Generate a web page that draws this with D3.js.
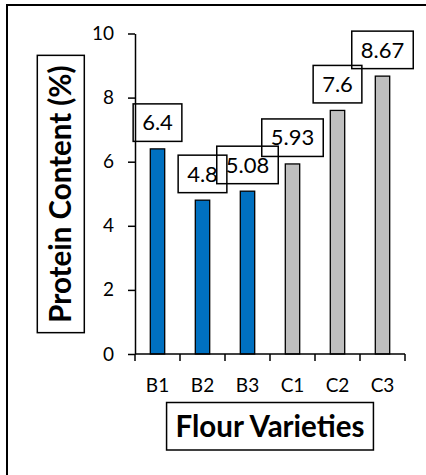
<!DOCTYPE html>
<html><head><meta charset="utf-8">
<script src="https://cdn.jsdelivr.net/npm/d3@7"></script>
<style>body{margin:0;background:#fff;overflow:hidden}svg{display:block}</style>
</head><body>
<script>
const categories = ["B1","B2","B3","C1","C2","C3"];
const values = [6.4, 4.8, 5.08, 5.93, 7.6, 8.67];
const groups = ["B","B","B","C","C","C"];
const yTicks = [0,2,4,6,8,10];
const xTitle = "Flour Varieties";
const yTitle = "Protein Content (%)";
const colors = {B:"#0070C0", C:"#BFBFBF"};

const W=426,H=475;
const svg=d3.select("body").append("svg").attr("width",W).attr("height",H);
// outer chart border: only top and left edges are within the picture
svg.append("path").attr("d","M7,"+H+" V5 H"+W).attr("fill","none")
  .attr("stroke","#000").attr("stroke-width",2);

const x=d3.scaleBand().domain(categories).range([135,405]).paddingInner(0.68).paddingOuter(0.34);
const y=d3.scaleLinear().domain([0,10]).range([354,33.5]);
const font="Lato, 'Open Sans', sans-serif";

// bars
svg.selectAll(".bar").data(categories).enter().append("rect")
  .attr("x",d=>x(d)).attr("width",x.bandwidth())
  .attr("y",(d,i)=>y(values[i])).attr("height",(d,i)=>y(0)-y(values[i]))
  .attr("fill",(d,i)=>colors[groups[i]]).attr("stroke","#000").attr("stroke-width",1.3);

// y axis
const ya=svg.append("g").attr("transform","translate(135,0)")
  .call(d3.axisLeft(y).tickValues(yTicks).tickSize(7).tickPadding(14).tickSizeOuter(0));
ya.select(".domain").attr("stroke","#000").attr("stroke-width",1.5);
ya.selectAll(".tick line").attr("stroke-width",1.5);
ya.selectAll("text").attr("font-family",font).attr("font-size",19).attr("fill","#000");

// x axis with ticks at band boundaries
const xa=svg.append("g").attr("transform","translate(0,354)");
xa.append("line").attr("x1",135).attr("x2",405).attr("stroke","#000").attr("stroke-width",1.5);
const bounds=d3.range(categories.length+1).map(i=>135+i*(270/categories.length));
xa.selectAll(".xt").data(bounds).enter().append("line")
  .attr("x1",d=>d).attr("x2",d=>d).attr("y1",0).attr("y2",7).attr("stroke","#000").attr("stroke-width",1.5);
xa.selectAll(".xl").data(categories).enter().append("text")
  .attr("x",d=>x(d)+x.bandwidth()/2).attr("y",37.5).attr("text-anchor","middle")
  .attr("font-family",font).attr("font-size",19).text(d=>d);

// data labels with boxes (no fill)
categories.forEach((c,i)=>{
  const cx=x(c)+x.bandwidth()/2;
  const bottom=y(values[i])-7.5;
  const t=svg.append("text").attr("x",cx).attr("y",bottom-11).attr("text-anchor","middle")
    .attr("font-family",font).attr("font-size",22).text(values[i]);
  const w=t.node().getComputedTextLength()+18;
  svg.append("rect").attr("x",cx-w/2).attr("y",bottom-37.5).attr("width",w).attr("height",37.5)
    .attr("fill","none").attr("stroke","#000").attr("stroke-width",1.5);
});

// x title
const xt=svg.append("text").attr("x",270).attr("y",436.5).attr("text-anchor","middle")
  .attr("font-family",font).attr("font-weight","bold").attr("font-size",29.5).text(xTitle);
const xw=xt.node().getComputedTextLength();
svg.append("rect").attr("x",270-(xw+18)/2).attr("y",402.5).attr("width",xw+18).attr("height",47.5)
  .attr("fill","none").attr("stroke","#000").attr("stroke-width",1.5);

// y title
const yt=svg.append("text").attr("transform","translate(71,194) rotate(-90)").attr("text-anchor","middle")
  .attr("font-family",font).attr("font-weight","bold").attr("font-size",29.5).text(yTitle);
const yw=yt.node().getComputedTextLength();
svg.append("rect").attr("x",37.3).attr("y",194-(yw+20)/2).attr("width",47).attr("height",yw+20)
  .attr("fill","none").attr("stroke","#000").attr("stroke-width",1.5);
</script>
</body></html>
